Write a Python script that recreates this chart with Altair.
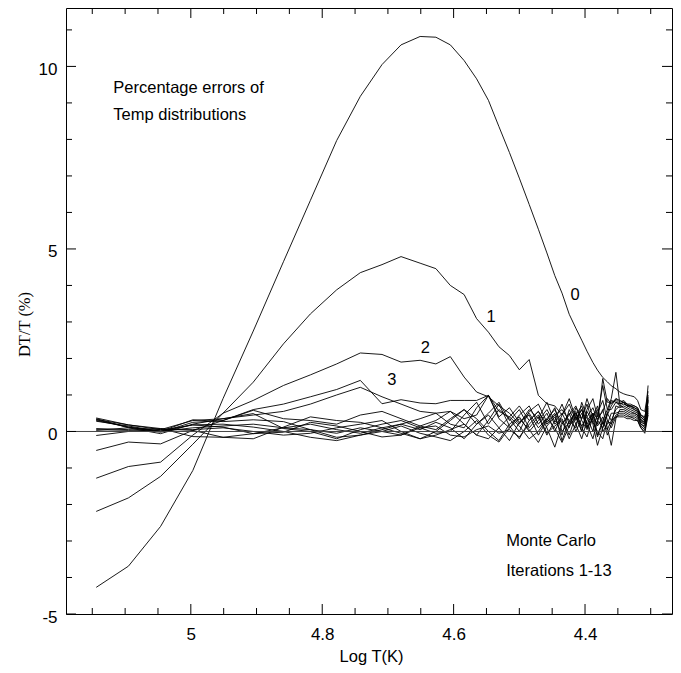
import altair as alt
import pandas as pd

# ---------------- data ----------------
log_t = [5.144, 5.095, 5.046, 4.997, 4.951, 4.905, 4.859, 4.818, 4.778, 4.742,
         4.709, 4.680, 4.651, 4.627, 4.605, 4.584, 4.565, 4.547, 4.531, 4.515,
         4.500, 4.485, 4.471, 4.458, 4.446, 4.435, 4.424, 4.414, 4.405, 4.397,
         4.388, 4.381, 4.373, 4.366, 4.360, 4.353, 4.347, 4.341, 4.336, 4.331,
         4.325, 4.320, 4.315, 4.309, 4.304]

it0 = [-4.27, -3.69, -2.60, -1.07, 0.90, 2.75, 4.65, 6.33, 7.97, 9.18,
       10.05, 10.59, 10.82, 10.80, 10.59, 10.16, 9.66, 9.07, 8.35, 7.64,
       6.94, 6.22, 5.54, 4.89, 4.27, 3.79, 3.21, 2.83, 2.50, 2.20,
       1.89, 1.68, 1.48, 1.36, 1.25, 1.17, 1.08, 1.03, 1.00, 0.98,
       0.95, 0.85, 0.60, 0.55, 1.10]
it1 = [-2.19, -1.82, -1.23, -0.35, 0.50, 1.35, 2.40, 3.22, 3.88, 4.35,
       4.57, 4.79, 4.61, 4.46, 4.00, 3.75, 3.09, 2.72, 2.32, 2.08,
       1.69, 1.97, 0.99, 0.76, 0.70, 0.45, 0.75, 0.30, 0.60, 0.20,
       0.50, 0.35, 0.55, 0.90, 0.75, 0.90, 0.80, 0.85, 0.75, 0.75,
       0.70, 0.65, 0.45, 0.35, 1.00]
it2 = [-1.28, -0.96, -0.84, -0.10, 0.50, 0.85, 1.26, 1.55, 1.85, 2.15,
       2.11, 1.90, 1.95, 1.85, 2.05, 1.49, 1.08, 0.95, 0.70, 0.50,
       0.20, 0.60, 0.35, 0.80, 0.25, 0.50, 0.10, 0.65, 0.35, 0.90,
       0.40, 0.60, 0.20, 0.50, 0.85, 0.80, 0.75, 0.80, 0.70, 0.70,
       0.65, 0.60, 0.40, 0.30, 0.85]
it3 = [-0.52, -0.29, -0.34, 0.03, 0.30, 0.60, 0.75, 0.95, 1.15, 1.40,
       0.76, 0.87, 0.78, 0.76, 0.85, 0.85, 0.85, 0.99, 0.55, 0.40,
       0.70, 0.30, 0.55, 0.20, 0.45, 0.60, 0.30, 0.50, 0.15, 0.40,
       0.65, 0.30, 0.10, 0.45, 0.70, 0.90, 0.85, 0.80, 0.75, 0.70,
       0.70, 0.65, 0.45, 0.40, 0.85]
it4 = [0.37, 0.18, 0.05, 0.30, 0.35, 0.45, 0.55, 0.75, 1.00, 1.21,
       0.95, 0.75, 0.55, 0.50, 0.55, 0.35, 0.45, 0.99, 0.40, 0.65,
       0.25, 0.50, 0.10, 0.35, 0.60, 0.20, 0.45, 0.70, 0.30, 0.05,
       0.40, 0.20, 1.45, 0.80, 0.80, 0.85, 0.75, 0.80, 0.70, 0.70,
       0.65, 0.60, 0.40, 0.30, 0.90]
it5 = [0.32, 0.12, -0.02, 0.25, 0.30, 0.58, 0.35, 0.30, 0.20, 0.45,
       0.55, 0.35, 0.15, 0.05, 0.35, 0.60, 0.20, 0.50, 0.80, 0.30,
       0.60, 0.10, 0.40, -0.10, 0.30, 0.75, 0.20, 0.50, 0.00, 0.60,
       0.90, 0.40, 1.26, 0.60, 0.60, 0.80, 0.70, 0.75, 0.70, 0.65,
       0.60, 0.55, 0.35, 0.25, 1.26]
it6 = [0.28, 0.15, 0.00, 0.32, 0.27, 0.32, 0.27, 0.05, -0.16, -0.10,
       0.05, 0.20, 0.35, 0.50, 0.20, 0.10, 0.65, 0.99, 0.35, 0.10,
       0.45, 0.70, 0.20, 0.50, 0.00, 0.45, 0.90, 0.35, 0.60, 0.10,
       0.50, -0.10, 0.30, 0.60, 0.90, 1.62, 0.75, 0.80, 0.70, 0.70,
       0.60, 0.55, 0.30, 0.20, 0.95]
it7 = [0.35, 0.10, -0.06, 0.20, 0.35, 0.49, 0.08, 0.00, -0.20, 0.05,
       0.20, 0.30, 0.10, -0.05, 0.00, 0.45, 0.80, 0.20, 0.60, 0.35,
       0.00, 0.55, 0.75, 0.25, 0.50, -0.25, 0.30, 0.10, 0.80, 0.40,
       0.00, 0.50, 0.85, 0.30, 0.20, 0.70, 0.65, 0.70, 0.65, 0.60,
       0.55, 0.50, 0.30, 0.25, 0.80]
it8 = [0.30, 0.12, 0.00, 0.18, 0.12, -0.06, -0.02, 0.25, 0.15, 0.00,
       -0.15, -0.10, 0.15, 0.30, 0.55, 0.20, -0.10, 0.30, 0.75, 0.15,
       -0.20, 0.30, 0.55, 0.10, -0.43, 0.20, 0.50, 0.00, 0.35, 0.75,
       0.20, -0.38, 0.10, 0.50, 0.30, 0.60, 0.70, 0.65, 0.60, 0.55,
       0.50, 0.45, 0.25, 0.20, 0.70]
it9 = [0.33, 0.18, 0.08, 0.03, -0.16, -0.20, 0.12, 0.40, 0.30, 0.25,
       0.10, -0.05, -0.20, 0.00, 0.30, 0.60, 0.35, 0.00, -0.25, 0.20,
       0.40, 0.00, 0.30, 0.60, 0.20, 0.35, -0.10, 0.45, 0.70, 0.20,
       -0.20, 0.30, 0.60, 0.10, -0.38, 0.35, 0.60, 0.60, 0.55, 0.50,
       0.50, 0.45, 0.20, 0.15, 0.65]
it10 = [0.05, 0.03, 0.08, -0.14, -0.16, -0.06, 0.10, 0.20, 0.05, -0.05,
        0.10, 0.20, 0.05, 0.25, 0.10, -0.20, 0.20, 0.45, 0.10, -0.25,
        0.25, 0.45, -0.10, 0.30, 0.65, 0.00, 0.25, 0.55, 0.10, -0.15,
        0.40, 0.70, 0.00, 0.20, 0.50, 0.50, 0.55, 0.55, 0.50, 0.45,
        0.45, 0.40, 0.20, 0.10, 0.60]
it11 = [-0.11, 0.00, 0.03, 0.18, 0.20, 0.12, 0.00, -0.16, -0.25, -0.10,
        0.00, 0.15, -0.05, -0.15, -0.25, 0.00, 0.30, -0.10, -0.29, 0.10,
        0.35, 0.05, -0.30, 0.15, 0.40, -0.10, 0.60, 0.20, -0.20, 0.30,
        0.50, 0.15, 0.40, -0.10, 0.20, 0.45, 0.50, 0.50, 0.45, 0.40,
        0.40, 0.35, 0.15, 0.05, 0.55]
it12 = [0.03, 0.10, 0.05, 0.05, 0.10, 0.00, -0.10, -0.05, 0.10, 0.20,
        0.30, 0.00, -0.20, -0.10, 0.05, 0.20, -0.10, -0.20, 0.10, 0.40,
        0.15, -0.20, 0.00, 0.35, 0.10, -0.30, 0.15, 0.40, 0.00, 0.55,
        0.25, 0.00, -0.20, 0.30, 0.10, 0.40, 0.45, 0.45, 0.40, 0.40,
        0.35, 0.30, 0.10, 0.00, 0.50]
it13 = [0.08, 0.05, 0.00, 0.10, 0.15, 0.20, 0.10, 0.05, -0.05, 0.10,
        0.00, -0.10, 0.10, 0.15, -0.10, -0.15, 0.05, 0.15, -0.05, 0.05,
        -0.15, 0.20, 0.45, -0.05, 0.15, 0.30, -0.20, 0.20, 0.50, 0.10,
        0.35, -0.15, 0.25, 0.05, 0.30, 0.40, 0.40, 0.40, 0.35, 0.35,
        0.30, 0.30, 0.10, -0.05, 0.45]

iterations = [it0, it1, it2, it3, it4, it5, it6, it7, it8, it9, it10, it11, it12, it13]

x_major = [5.0, 4.8, 4.6, 4.4]
x_minor = [5.15, 5.10, 5.05, 4.95, 4.90, 4.85, 4.75, 4.70, 4.65,
           4.55, 4.50, 4.45, 4.35, 4.30]
y_major = [-5, 0, 5, 10]
y_minor = [-4, -3, -2, -1, 1, 2, 3, 4, 6, 7, 8, 9, 11]

note_text = ["Percentage errors of", "Temp distributions", "Monte Carlo", "Iterations 1-13"]
note_x = [5.118, 5.118, 4.52, 4.52]
note_y = [9.28, 8.52, -3.15, -3.95]

curve_label = ["0", "1", "2", "3"]
curve_label_x = [4.415, 4.543, 4.643, 4.694]
curve_label_y = [3.59, 2.99, 2.15, 1.26]

# ---------------- build tables ----------------
rows = []
for k, vals in enumerate(iterations):
    assert len(vals) == len(log_t)
    for xv, yv in zip(log_t, vals):
        rows.append({"logT": xv, "dt": yv, "iter": k})
df = pd.DataFrame(rows)

W, H = 606, 606
FONT = "Liberation Sans"
xs = alt.Scale(domain=[5.19, 4.2676], nice=False, zero=False)
ys = alt.Scale(domain=[-5, 11.6], nice=False, zero=False)

lines = alt.Chart(df).mark_line(color="black", strokeWidth=0.9, clip=True).encode(
    x=alt.X("logT:Q", scale=xs,
            axis=alt.Axis(values=x_major, ticks=False, tickSize=0, domain=False, grid=False,
                          labelExpr="toString(datum.value)",
                          labelPadding=12, labelFontSize=17, labelFont=FONT, labelColor="black",
                          title="Log T(K)", titleFont=FONT, titleFontSize=16.5,
                          titleFontWeight="normal", titleColor="black",
                          titleX=305, titleY=47, titleBaseline="alphabetic", titleAlign="center")),
    y=alt.Y("dt:Q", scale=ys,
            axis=alt.Axis(values=y_major, ticks=False, tickSize=0, domain=False, grid=False,
                          labelExpr="datum.value < 0 ? '-' + toString(-datum.value) : toString(datum.value)",
                          labelPadding=9, labelOffset=3, labelFontSize=17, labelFont=FONT,
                          labelColor="black",
                          title="DT/T (%)", titleFont="Liberation Serif", titleFontSize=16.5,
                          titleFontWeight="normal", titleColor="black",
                          titleX=-42, titleY=316, titleAngle=270,
                          titleBaseline="middle", titleAlign="center")),
    detail="iter:N",
)

zero = alt.Chart(pd.DataFrame({"y": [0]})).mark_rule(color="#444444", strokeWidth=1).encode(
    y=alt.Y("y:Q", scale=ys)
)


def xticks(vals, length, top):
    y0, y1 = (0, length) if top else (H, H - length)
    return alt.Chart(pd.DataFrame({"t": vals})).mark_rule(color="black", strokeWidth=1).encode(
        x=alt.X("t:Q", scale=xs), y=alt.value(y0), y2=alt.value(y1))


def yticks(vals, length, right):
    x0, x1 = (W, W - length) if right else (0, length)
    return alt.Chart(pd.DataFrame({"t": vals})).mark_rule(color="black", strokeWidth=1).encode(
        y=alt.Y("t:Q", scale=ys), x=alt.value(x0), x2=alt.value(x1))


ticks = [xticks(x_major, 10, False), xticks(x_minor, 6, False),
         xticks(x_major, 10, True), xticks(x_minor, 6, True),
         yticks(y_major, 10, False), yticks(y_minor, 6, False),
         yticks(y_major, 10, True), yticks(y_minor, 6, True)]

notes = alt.Chart(pd.DataFrame({"x": note_x, "y": note_y, "t": note_text})).mark_text(
    align="left", baseline="alphabetic", fontSize=16.5, font=FONT, color="black"
).encode(x=alt.X("x:Q", scale=xs), y=alt.Y("y:Q", scale=ys), text="t:N")

labels = alt.Chart(pd.DataFrame({"x": curve_label_x, "y": curve_label_y, "t": curve_label})).mark_text(
    align="center", baseline="alphabetic", fontSize=16.5, font=FONT, color="black"
).encode(x=alt.X("x:Q", scale=xs), y=alt.Y("y:Q", scale=ys), text="t:N")

chart = alt.layer(lines, zero, *ticks, notes, labels).properties(
    width=W, height=H,
    autosize=alt.AutoSizeParams(type="none"),
    padding={"left": 58, "top": 0, "right": 1, "bottom": 51},
    background="white",
).configure_view(stroke="black", strokeWidth=1)

chart.save("out.html", embed_options={"renderer": "svg", "actions": False})
